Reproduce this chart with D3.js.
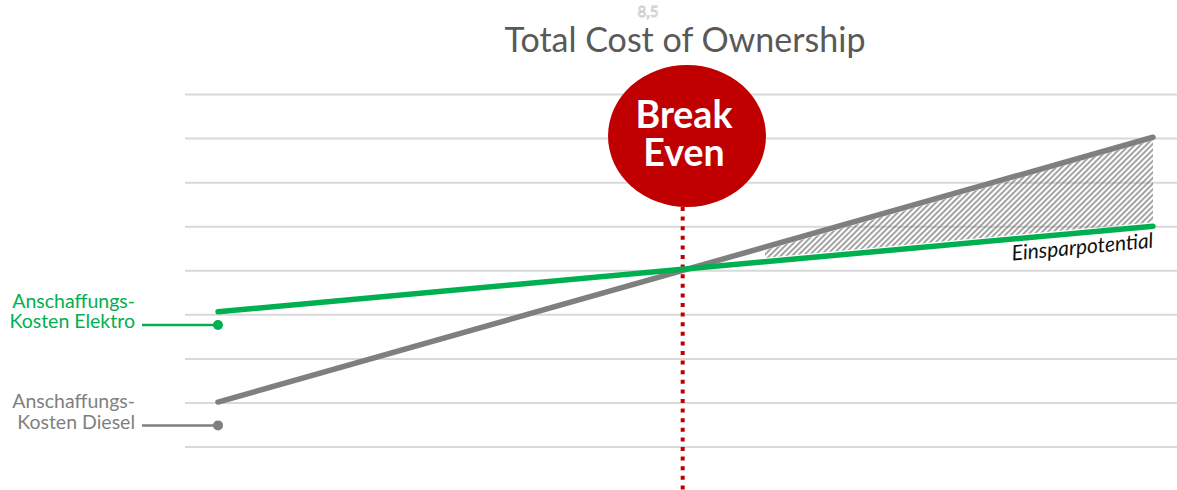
<!DOCTYPE html>
<meta charset="utf-8">
<style>
body {
	margin: 0;
	background: #fff;
}
svg {
	display: block;
	font-family: Lato, "Open Sans", sans-serif;
}
.grid line {
	stroke: #d9d9d9;
	stroke-width: 2;
}
</style>
<body>
<svg></svg>
<script src="https://d3js.org/d3.v7.min.js"></script>
<script>

// data
var years = [0, 10];
var elektro = [3.07, 5.01];
var diesel = [1.02, 7.03];
var gridTicks = [0, 1, 2, 3, 4, 5, 6, 7, 8];
var breakEvenX = 4.97;
var savingFrom = 5.85;
var startDots = [
	{name: "elektro", value: 2.77, lines: ["Anschaffungs-", "Kosten Elektro"], color: "#00b050"},
	{name: "diesel", value: 0.49, lines: ["Anschaffungs-", "Kosten Diesel"], color: "#7f7f7f"}
];
var title = "Total Cost of Ownership";
var ghostLabel = "8,5";

var width = 1177, height = 490;

var svg = d3.select("svg")
	.attr("width", width)
	.attr("height", height);

var x = d3.scaleLinear()
	.domain([0, 10])
	.range([218, 1153]);

var y = d3.scaleLinear()
	.domain([0, 8])
	.range([447, 94.5]);

// hatch pattern for the saving area
var defs = svg.append("defs");
defs.append("pattern")
	.attr("id", "hatch")
	.attr("patternUnits", "userSpaceOnUse")
	.attr("width", 4)
	.attr("height", 4)
	.attr("patternTransform", "rotate(45)")
	.append("line")
	.attr("x1", 1).attr("y1", 0)
	.attr("x2", 1).attr("y2", 4)
	.attr("stroke", "#666")
	.attr("stroke-width", 1.2);

// horizontal gridlines
svg.append("g")
	.attr("class", "grid")
	.selectAll("line")
	.data(gridTicks)
	.join("line")
	.attr("x1", 185)
	.attr("x2", width)
	.attr("y1", function(d) { return y(d); })
	.attr("y2", function(d) { return y(d); });

// title + ghost data label
svg.append("text")
	.attr("x", 648)
	.attr("y", 17)
	.attr("text-anchor", "middle")
	.attr("font-size", 15)
	.attr("fill", "#fff")
	.attr("stroke", "#c8c8c8")
	.attr("stroke-width", 0.8)
	.text(ghostLabel);

svg.append("text")
	.attr("x", 685)
	.attr("y", 52)
	.attr("text-anchor", "middle")
	.attr("font-size", 34)
	.attr("fill", "#595959")
	.text(title);

// saving area between the two lines
function lerp(arr, t) {
	return arr[0] + (arr[1] - arr[0]) * (t - years[0]) / (years[1] - years[0]);
}
var area = [
	[x(savingFrom), y(lerp(diesel, savingFrom)) + 3],
	[x(years[1]), y(diesel[1]) + 3],
	[x(years[1]), y(elektro[1]) - 4],
	[x(savingFrom), y(lerp(elektro, savingFrom)) - 4]
];
svg.append("path")
	.attr("d", d3.line()(area) + "Z")
	.attr("fill", "url(#hatch)");

// break even dotted line
svg.append("line")
	.attr("x1", x(breakEvenX))
	.attr("x2", x(breakEvenX))
	.attr("y1", 207)
	.attr("y2", height)
	.attr("stroke", "#c00000")
	.attr("stroke-width", 4)
	.attr("stroke-dasharray", "4,5.6");

// series lines
var line = d3.line()
	.x(function(d) { return x(d[0]); })
	.y(function(d) { return y(d[1]); });

svg.append("path")
	.attr("d", line(d3.zip(years, diesel)))
	.attr("stroke", "#7f7f7f")
	.attr("stroke-width", 5.5)
	.attr("stroke-linecap", "round")
	.attr("fill", "none");

svg.append("path")
	.attr("d", line(d3.zip(years, elektro)))
	.attr("stroke", "#00b050")
	.attr("stroke-width", 5.5)
	.attr("stroke-linecap", "round")
	.attr("fill", "none");

// start-cost annotations
var ann = svg.selectAll("g.ann")
	.data(startDots)
	.join("g")
	.attr("class", "ann");

ann.append("line")
	.attr("x1", 142)
	.attr("x2", x(0))
	.attr("y1", function(d) { return y(d.value); })
	.attr("y2", function(d) { return y(d.value); })
	.attr("stroke", function(d) { return d.color; })
	.attr("stroke-width", 2.5);

ann.append("circle")
	.attr("cx", x(0))
	.attr("cy", function(d) { return y(d.value); })
	.attr("r", 5)
	.attr("fill", function(d) { return d.color; });

ann.append("text")
	.attr("text-anchor", "end")
	.attr("font-size", 19.5)
	.attr("fill", function(d) { return d.color; })
	.each(function(d) {
		var t = d3.select(this);
		d.lines.forEach(function(s, i) {
			t.append("tspan")
				.attr("x", 135)
				.attr("y", y(d.value) - 17 + i * 20.5)
				.text(s);
		});
	});

// break even bubble
svg.append("ellipse")
	.attr("cx", 687)
	.attr("cy", 136)
	.attr("rx", 79)
	.attr("ry", 71)
	.attr("fill", "#c00000");

svg.append("text")
	.attr("x", 684)
	.attr("y", 128)
	.attr("text-anchor", "middle")
	.attr("font-size", 37.5)
	.attr("font-weight", "bold")
	.attr("fill", "#fff")
	.text("Break");

svg.append("text")
	.attr("x", 684)
	.attr("y", 166)
	.attr("text-anchor", "middle")
	.attr("font-size", 37.5)
	.attr("font-weight", "bold")
	.attr("fill", "#fff")
	.text("Even");

// saving label along the green line
var angle = Math.atan2(y(elektro[1]) - y(elektro[0]), x(years[1]) - x(years[0])) * 180 / Math.PI;
svg.append("text")
	.attr("transform", "translate(1083,254) rotate(" + angle + ")")
	.attr("text-anchor", "middle")
	.attr("font-size", 21)
	.attr("font-style", "italic")
	.attr("fill", "#111")
	.text("Einsparpotential");

</script>
</body>
